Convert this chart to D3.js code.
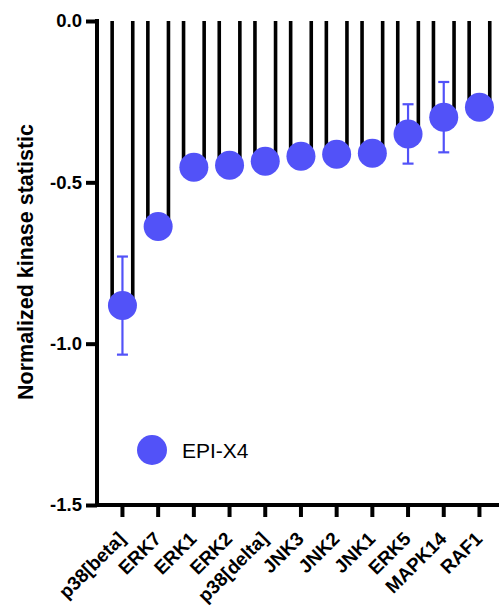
<!DOCTYPE html>
<html>
<head>
<meta charset="utf-8">
<script src="https://cdn.jsdelivr.net/npm/d3@7"></script>
<style>
  html, body { margin: 0; padding: 0; background: #fff; }
  svg { display: block; }
  text { font-family: "Liberation Sans", Arial, Helvetica, sans-serif; }
</style>
</head>
<body>
<svg id="chart" width="499" height="607"></svg>
<script>
// ---- data ----
const categories = ["p38[beta]", "ERK7", "ERK1", "ERK2", "p38[delta]", "JNK3", "JNK2", "JNK1", "ERK5", "MAPK14", "RAF1"];
const values = [-0.882, -0.637, -0.453, -0.447, -0.435, -0.419, -0.413, -0.410, -0.350, -0.298, -0.267];
const errors = [0.152, 0, 0, 0, 0, 0, 0, 0, 0.092, 0.109, 0];
const yTicks = [0, -0.5, -1.0, -1.5];
const seriesName = "EPI-X4";

const W = 499, H = 607;
const blue = "#5252F8";
const svg = d3.select("#chart");

const x = d3.scaleBand().domain(categories).range([104.6, 497.3]).padding(0);
const y = d3.scaleLinear().domain([0, -1.5]).range([21, 505]);
const barHalf = 10.3;

const data = categories.map((c, i) => ({ c, v: values[i], e: errors[i] }));
const cx = d => x(d.c) + x.bandwidth() / 2;

// bars (open bars: left and right edges only)
const bars = svg.append("g");
data.forEach(d => {
  [-1, 1].forEach(s => {
    bars.append("line")
      .attr("x1", cx(d) + s * barHalf).attr("x2", cx(d) + s * barHalf)
      .attr("y1", y(0)).attr("y2", y(d.v))
      .attr("stroke", "#000").attr("stroke-width", 3.6);
  });
});

// y axis
const yAxis = svg.append("g")
  .attr("transform", "translate(97,0)")
  .call(d3.axisLeft(y).tickValues(yTicks).tickFormat(d3.format(".1f")).tickSize(11).tickPadding(4));
yAxis.select(".domain").attr("d", `M0,${y(0) - 2}V${y(-1.5)}`).attr("stroke-width", 4);
yAxis.selectAll(".tick line").attr("stroke-width", 4);
yAxis.selectAll(".tick text").attr("font-size", 18.5).attr("font-weight", "bold").attr("fill", "#000");
yAxis.selectAll(".tick text").text(d => d === 0 ? "0.0" : d3.format(".1f")(d).replace("−", "-"));

// x axis
const xAxis = svg.append("g")
  .attr("transform", `translate(0,${y(-1.5)})`)
  .call(d3.axisBottom(x).tickSize(12).tickSizeOuter(0));
xAxis.select(".domain").attr("d", `M95,0H${W}`).attr("stroke-width", 4);
xAxis.selectAll(".tick line").attr("stroke-width", 4);
xAxis.selectAll(".tick text")
  .attr("font-size", 19).attr("font-weight", "bold").attr("fill", "#000")
  .attr("text-anchor", "end")
  .attr("dy", 0).attr("y", 0)
  .attr("transform", "translate(4,35) rotate(-45)");

// error bars
const eb = svg.append("g").attr("stroke", blue).attr("stroke-width", 2.2);
data.filter(d => d.e > 0).forEach(d => {
  const c = cx(d);
  eb.append("line").attr("x1", c).attr("x2", c).attr("y1", y(d.v + d.e)).attr("y2", y(d.v - d.e));
  [d.v + d.e, d.v - d.e].forEach(v => {
    eb.append("line").attr("x1", c - 5.5).attr("x2", c + 5.5).attr("y1", y(v)).attr("y2", y(v));
  });
});

// points
svg.append("g").selectAll("circle").data(data).join("circle")
  .attr("cx", cx).attr("cy", d => y(d.v)).attr("r", 14.5).attr("fill", blue);

// y label
svg.append("text")
  .attr("transform", "translate(33,262) rotate(-90)")
  .attr("text-anchor", "middle")
  .attr("font-size", 21.5).attr("font-weight", "bold")
  .text("Normalized kinase statistic");

// legend
svg.append("circle").attr("cx", 152).attr("cy", 450).attr("r", 15).attr("fill", blue);
svg.append("text").attr("x", 182).attr("y", 458).attr("font-size", 21).text(seriesName);
</script>
</body>
</html>
